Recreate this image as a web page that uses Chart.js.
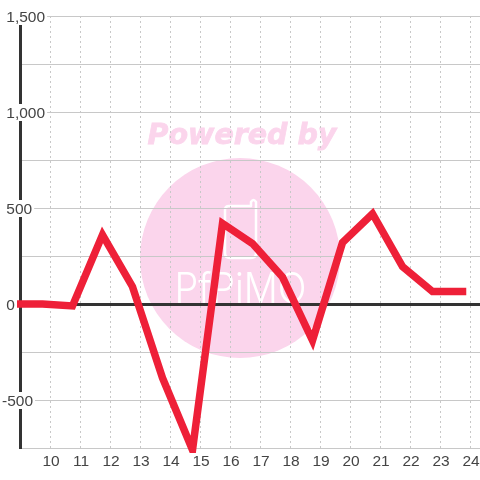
<!DOCTYPE html>
<html>
<head>
<meta charset="utf-8">
<style>
  html, body { margin: 0; padding: 0; background: #fff; }
  canvas { display: block; }
</style>
<script src="https://cdn.jsdelivr.net/npm/chart.js@4/dist/chart.umd.min.js"></script>
</head>
<body>
<canvas id="chart" width="480" height="480"></canvas>
<script>
// Chart data
const hours = [8.75, 9.75, 10.75, 11.75, 12.75, 13.75, 14.75, 15.75, 16.75, 17.75, 18.75, 19.75, 20.75, 21.75, 22.75, 23.75];
const values = [0, 0, -10, 360, 90, -385, -760, 420, 315, 140, -190, 320, 470, 195, 65, 65];
const xTicks = [10, 11, 12, 13, 14, 15, 16, 17, 18, 19, 20, 21, 22, 23, 24];
const yTicks = [-750, -500, -250, 0, 250, 500, 750, 1000, 1250, 1500];
const yLabelled = [-500, 0, 500, 1000, 1500];

const labelFont = { family: '"Liberation Sans", Arial, sans-serif', size: 15.5, lineHeight: 14 / 15.5 };

// Watermark behind the grid
const watermark = {
    id: 'watermark',
    beforeDraw(chart) {
        const c = chart.ctx;
        c.save();
        c.fillStyle = '#fff';
        c.fillRect(0, 0, chart.width, chart.height);

        c.fillStyle = '#fbd5ec';
        c.beginPath();
        c.arc(240, 258, 100, 0, Math.PI * 2);
        c.fill();

        c.font = 'italic bold 28.5px "DejaVu Sans"';
        c.textAlign = 'center';
        c.textBaseline = 'alphabetic';
        c.strokeStyle = '#fbd5ec';
        c.lineWidth = 0.8;
        c.fillText('Powered by', 242, 144);
        c.strokeText('Powered by', 242, 144);

        // phone outline
        c.strokeStyle = '#fff';
        c.lineWidth = 2.5;
        c.lineJoin = 'round';
        c.beginPath();
        c.moveTo(251, 206);
        c.lineTo(229, 206);
        c.quadraticCurveTo(225, 206, 225, 210);
        c.lineTo(225, 253);
        c.quadraticCurveTo(225, 258, 230, 258);
        c.lineTo(251, 258);
        c.quadraticCurveTo(256, 258, 256, 253);
        c.lineTo(256, 202);
        c.quadraticCurveTo(253.5, 198, 251, 202);
        c.closePath();
        c.stroke();

        c.fillStyle = '#fff';
        c.font = '300 42px Inter';
        c.translate(240.5, 303);
        c.scale(0.9, 1);
        c.fillText('PfPiMO', 0, 0);
        c.restore();
    }
};

new Chart(document.getElementById('chart'), {
    type: 'line',
    data: {
        datasets: [{
            data: hours.map((h, i) => ({ x: h, y: values[i] })),
            borderColor: '#ee2038',
            borderWidth: 7.5,
            borderJoinStyle: 'miter',
            borderCapStyle: 'square',
            pointRadius: 0,
            tension: 0,
            clip: { left: 3, top: 5, right: 5, bottom: 5 }
        }]
    },
    options: {
        responsive: false,
        animation: false,
        layout: { padding: { top: 16, left: 0, right: 0, bottom: 0 } },
        plugins: { legend: { display: false }, tooltip: { enabled: false } },
        scales: {
            x: {
                type: 'linear',
                min: 9,
                max: 24.333,
                afterBuildTicks: axis => { axis.ticks = xTicks.map(v => ({ value: v })); },
                afterFit: axis => {
                    axis.height = 32;
                    axis.paddingLeft = 0;
                    axis.paddingRight = 0;
                },
                grid: { color: '#c8c8c8', lineWidth: 1, drawTicks: false },
                border: { display: false, dash: [2, 3] },
                ticks: {
                    color: '#444',
                    font: labelFont,
                    padding: 7,
                    labelOffset: 1,
                    autoSkip: false,
                    maxRotation: 0,
                    callback: v => String(v)
                }
            },
            y: {
                min: -750,
                max: 1500,
                afterBuildTicks: axis => { axis.ticks = yTicks.map(v => ({ value: v })); },
                afterFit: axis => { axis.width = 20; },
                grid: {
                    color: ctx => ctx.tick.value === 0 ? '#333' : '#c8c8c8',
                    lineWidth: ctx => ctx.tick.value === 0 ? 3 : 1,
                    drawTicks: false
                },
                border: { color: '#333', width: 3 },
                ticks: {
                    color: '#444',
                    font: labelFont,
                    mirror: true,
                    padding: -18,
                    labelOffset: 2,
                    showLabelBackdrop: true,
                    backdropColor: ctx => yLabelled.includes(ctx.tick.value) ? '#fff' : 'rgba(0,0,0,0)',
                    backdropPadding: { top: 3, bottom: 0, left: 2, right: 2 },
                    autoSkip: false,
                    // leading space lines the positive labels up past the minus sign
                    callback: v => !yLabelled.includes(v) ? '' : (v < 0 ? '' : ' ') + v.toLocaleString('en-US')
                }
            }
        }
    },
    plugins: [watermark]
});
</script>
</body>
</html>
